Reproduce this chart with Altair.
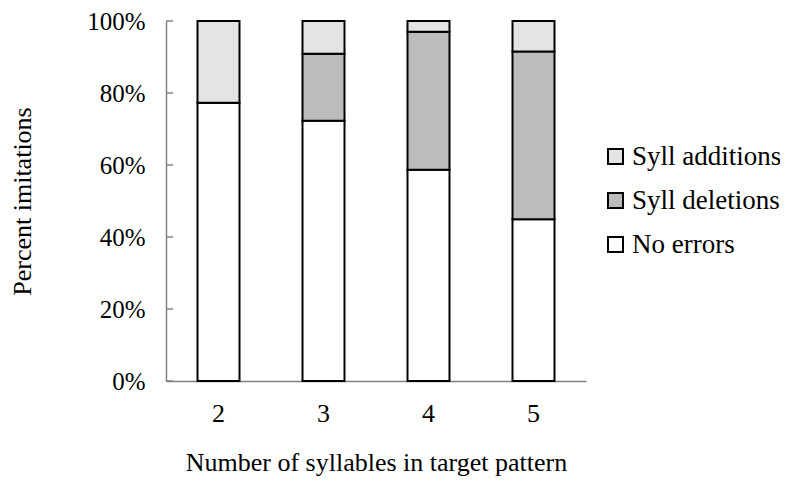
import altair as alt
import pandas as pd

categories = ["2", "3", "4", "5"]
no_errors = [77.3, 72.3, 58.7, 44.9]
syll_deletions = [0.0, 18.6, 38.3, 46.6]
syll_additions = [22.7, 9.1, 3.0, 8.5]

series_names = ["Syll additions", "Syll deletions", "No errors"]
series_colors = ["#e4e4e4", "#bcbcbc", "#ffffff"]
stack_rank = {"No errors": 0, "Syll deletions": 1, "Syll additions": 2}
y_ticks = [0, 20, 40, 60, 80, 100]

rows = []
for i, c in enumerate(categories):
    rows.append({"cat": c, "series": "No errors", "value": no_errors[i]})
    rows.append({"cat": c, "series": "Syll deletions", "value": syll_deletions[i]})
    rows.append({"cat": c, "series": "Syll additions", "value": syll_additions[i]})
df = pd.DataFrame(rows)
df["rank"] = df["series"].map(stack_rank)

FONT = "Liberation Serif"
FS = 26

yscale = alt.Scale(domain=[0, 100])

bars = alt.Chart(df).mark_bar(stroke="black", strokeWidth=2).encode(
    x=alt.X("cat:N", sort=categories,
            scale=alt.Scale(paddingInner=0.6, paddingOuter=0.3),
            axis=alt.Axis(title="Number of syllables in target pattern", labelAngle=0,
                          ticks=False, labelPadding=19, titlePadding=23,
                          domainColor="#808080", domainWidth=1.5)),
    y=alt.Y("value:Q", stack="zero", scale=yscale,
            axis=alt.Axis(title="Percent imitations", values=y_ticks,
                          labelExpr="datum.value + '%'", ticks=False,
                          labelFontSize=25,
                          labelPadding=21, titlePadding=51, grid=False,
                          domainColor="#808080", domainWidth=1.5)),
    fill=alt.Fill("series:N",
                  scale=alt.Scale(domain=series_names, range=series_colors),
                  legend=alt.Legend(title=None, orient="none", legendX=436, legendY=122,
                                    symbolType="square", symbolSize=225,
                                    symbolStrokeColor="black", symbolStrokeWidth=2,
                                    labelFontSize=27, labelFont=FONT, labelColor="black",
                                    rowPadding=16, labelOffset=3)),
    order=alt.Order("rank:Q"),
)

tick_df = pd.DataFrame({"t": y_ticks})
ticks = alt.Chart(tick_df).mark_rule(color="#808080", strokeWidth=1.5).encode(
    y=alt.Y("t:Q", scale=yscale),
    x=alt.value(0),
    x2=alt.value(7),
)

chart = alt.layer(bars, ticks).properties(
    width=420, height=360,
    autosize=alt.AutoSizeParams(type="none"),
    padding={"left": 158, "top": 13, "right": 194, "bottom": 111},
).configure_view(stroke=None).configure_axis(
    labelFont=FONT, titleFont=FONT, labelFontSize=FS, titleFontSize=FS,
    labelColor="black", titleColor="black", titleFontWeight="normal",
).configure_legend(labelFont=FONT)

chart.save("out.html", embed_options={"renderer": "svg", "actions": False})
